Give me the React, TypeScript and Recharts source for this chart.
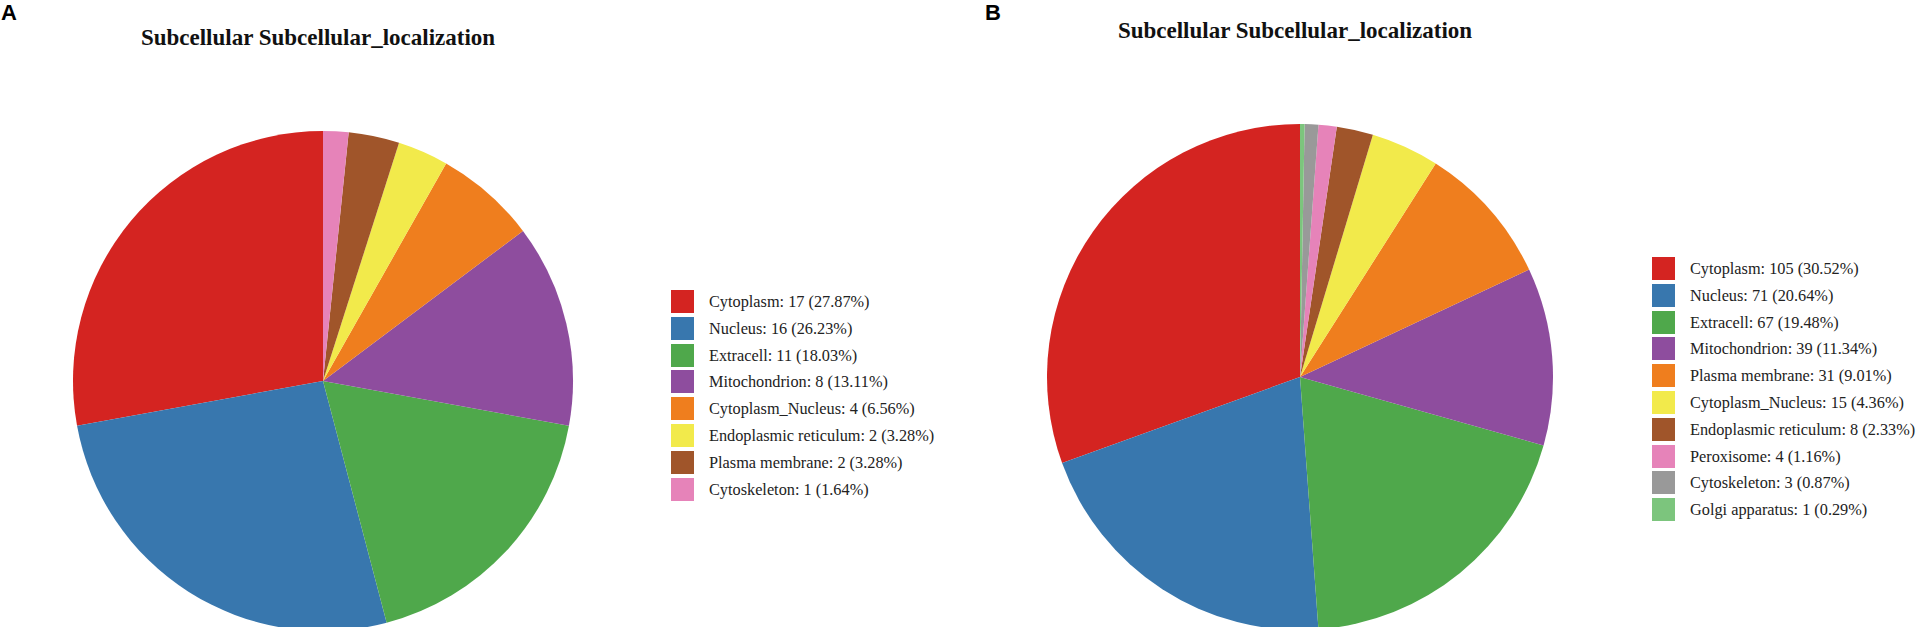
import { PieChart, Pie, Cell } from 'recharts'

const palette = ['#d42421', '#3877ae', '#4fa84b', '#8e4d9e', '#ef7e1e', '#f2ea4b', '#a0552a', '#e683b9', '#999999', '#7cc57d']

const namesA = ['Cytoplasm', 'Nucleus', 'Extracell', 'Mitochondrion', 'Cytoplasm_Nucleus', 'Endoplasmic reticulum', 'Plasma membrane', 'Cytoskeleton']
const valuesA = [17, 16, 11, 8, 4, 2, 2, 1]

const namesB = ['Cytoplasm', 'Nucleus', 'Extracell', 'Mitochondrion', 'Plasma membrane', 'Cytoplasm_Nucleus', 'Endoplasmic reticulum', 'Peroxisome', 'Cytoskeleton', 'Golgi apparatus']
const valuesB = [105, 71, 67, 39, 31, 15, 8, 4, 3, 1]

const title = 'Subcellular Subcellular_localization'

const toRows = (names: string[], values: number[]) => {
  const total = values.reduce((a, b) => a + b, 0)
  return names.map((name, i) => ({
    name,
    value: values[i],
    label: `${name}: ${values[i]} (${((values[i] / total) * 100).toFixed(2)}%)`,
  }))
}

const dataA = toRows(namesA, valuesA)
const dataB = toRows(namesB, valuesB)

const serif = '"Liberation Serif", "Times New Roman", serif'

function Legend({ rows, left, top }: { rows: { label: string }[]; left: number; top: number }) {
  return (
    <div style={{ position: 'absolute', left, top }}>
      {rows.map((r, i) => (
        <div key={r.label} style={{ position: 'absolute', top: i * 26.8, left: 0, display: 'flex', alignItems: 'center', whiteSpace: 'nowrap' }}>
          <div style={{ width: 23, height: 23, background: palette[i] }} />
          <span style={{ marginLeft: 15, fontFamily: serif, fontSize: 16.3, color: '#222', lineHeight: '23px' }}>{r.label}</span>
        </div>
      ))}
    </div>
  )
}

function Panel({ letter, letterX, data, left, cx, cy, r, titleY, legendX, legendY }: any) {
  return (
    <div style={{ position: 'absolute', left, top: 0, width: 960, height: 627 }}>
      <div style={{ position: 'absolute', left: letterX, top: 0, fontFamily: '"Liberation Sans", Arial, sans-serif', fontWeight: 'bold', fontSize: 22, lineHeight: '26px' }}>
        {letter}
      </div>
      <div style={{ position: 'absolute', left: cx - 300, width: 600, top: titleY - 13, textAlign: 'center', fontFamily: serif, fontWeight: 'bold', fontSize: 23, lineHeight: '26px', color: '#111' }}>
        {title}
      </div>
      <PieChart width={960} height={627} style={{ position: 'absolute', left: 0, top: 0 }}>
        <Pie
          data={data}
          dataKey="value"
          nameKey="name"
          cx={cx}
          cy={cy}
          outerRadius={r}
          startAngle={90}
          endAngle={450}
          stroke="none"
          isAnimationActive={false}
        >
          {data.map((d: any, i: number) => (
            <Cell key={d.name} fill={palette[i]} />
          ))}
        </Pie>
      </PieChart>
      <Legend rows={data} left={legendX} top={legendY} />
    </div>
  )
}

export default function App() {
  return (
    <div style={{ position: 'absolute', left: 0, top: 0, width: 1919, height: 627, background: '#fff', overflow: 'hidden' }}>
      <Panel letter="A" letterX={1} data={dataA} left={0} cx={318} cy={376} r={250} titleY={38} legendX={671} legendY={290} />
      <Panel letter="B" letterX={5} data={dataB} left={980} cx={315} cy={372} r={253} titleY={31} legendX={672} legendY={257} />
    </div>
  )
}
